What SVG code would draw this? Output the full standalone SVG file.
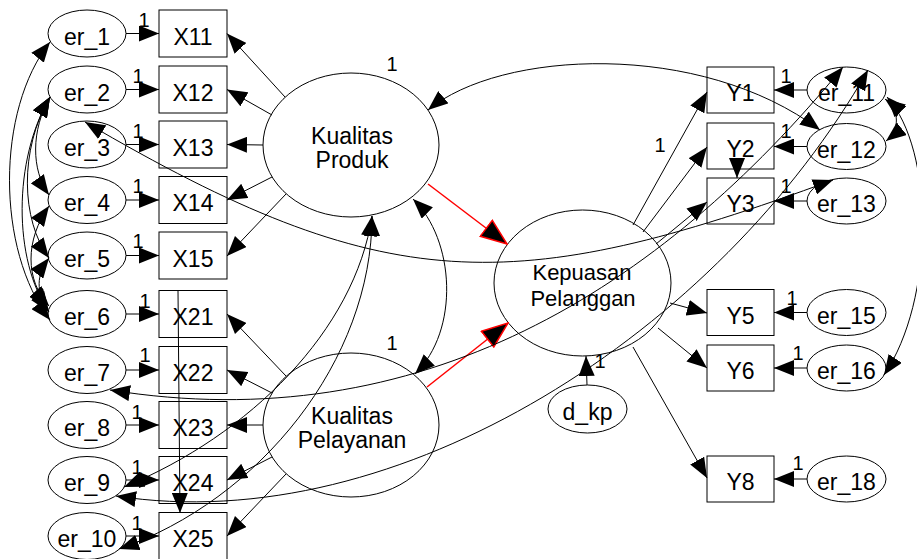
<svg xmlns="http://www.w3.org/2000/svg" width="917" height="559" viewBox="0 0 917 559">
<defs>
<style>
.n{fill:#fff;stroke:#000;stroke-width:1}
.t{font-family:"Liberation Sans",Arial,sans-serif;font-size:23px;text-anchor:middle;fill:#000}
.s{font-size:22px}
.o{font-family:"Liberation Sans",Arial,sans-serif;font-size:20px;text-anchor:middle;fill:#000}
.c{fill:none;stroke:#000;stroke-width:1;marker-end:url(#ah)}
.d{fill:none;stroke:#000;stroke-width:1;marker-start:url(#ah);marker-end:url(#ah)}
.r{fill:none;stroke:#f00;stroke-width:1.5;marker-end:url(#ahr)}
</style>
<marker id="ah" markerUnits="userSpaceOnUse" viewBox="0 0 20 16" markerWidth="20" markerHeight="16" refX="20" refY="8" orient="auto-start-reverse"><path d="M0,0 L20,8 L0,16 Z" fill="#000"/></marker>
<marker id="ahr" markerUnits="userSpaceOnUse" viewBox="0 0 28 22" markerWidth="28" markerHeight="22" refX="27" refY="11" orient="auto"><path d="M1,1 L27,11 L1,21 Z" fill="#000" stroke="#f00" stroke-width="1.5"/></marker>
</defs>
<rect width="917" height="559" fill="#fff"/>
<g id="nodes">
<g id="er_1"><ellipse class="n" cx="87" cy="33.5" rx="39" ry="23.5"/><text class="t" x="87" y="44.5">er_1</text></g>
<g id="er_2"><ellipse class="n" cx="87" cy="89.5" rx="39" ry="23.5"/><text class="t" x="87" y="100.5">er_2</text></g>
<g id="er_3"><ellipse class="n" cx="87" cy="144.5" rx="39" ry="23.5"/><text class="t" x="87" y="155.5">er_3</text></g>
<g id="er_4"><ellipse class="n" cx="87" cy="200" rx="39" ry="23.5"/><text class="t" x="87" y="211">er_4</text></g>
<g id="er_5"><ellipse class="n" cx="87" cy="255.5" rx="39" ry="23.5"/><text class="t" x="87" y="266.5">er_5</text></g>
<g id="er_6"><ellipse class="n" cx="87" cy="314" rx="39" ry="23.5"/><text class="t" x="87" y="325">er_6</text></g>
<g id="er_7"><ellipse class="n" cx="87" cy="370" rx="39" ry="23.5"/><text class="t" x="87" y="381">er_7</text></g>
<g id="er_8"><ellipse class="n" cx="87" cy="425" rx="39" ry="23.5"/><text class="t" x="87" y="436">er_8</text></g>
<g id="er_9"><ellipse class="n" cx="87" cy="480" rx="39" ry="23.5"/><text class="t" x="87" y="491">er_9</text></g>
<g id="er_10"><ellipse class="n" cx="87" cy="536" rx="39" ry="23.5"/><text class="t" x="87" y="547">er_10</text></g>
<g id="X11"><rect class="n" x="159" y="10" width="68" height="47"/><text class="t" x="193" y="44.5">X11</text></g>
<g id="X12"><rect class="n" x="159" y="66" width="68" height="47"/><text class="t" x="193" y="100.5">X12</text></g>
<g id="X13"><rect class="n" x="159" y="121" width="68" height="47"/><text class="t" x="193" y="155.5">X13</text></g>
<g id="X14"><rect class="n" x="159" y="176.5" width="68" height="47"/><text class="t" x="193" y="211">X14</text></g>
<g id="X15"><rect class="n" x="159" y="232" width="68" height="47"/><text class="t" x="193" y="266.5">X15</text></g>
<g id="X21"><rect class="n" x="159" y="290.5" width="68" height="47"/><text class="t" x="193" y="325">X21</text></g>
<g id="X22"><rect class="n" x="159" y="346.5" width="68" height="47"/><text class="t" x="193" y="381">X22</text></g>
<g id="X23"><rect class="n" x="159" y="401.5" width="68" height="47"/><text class="t" x="193" y="436">X23</text></g>
<g id="X24"><rect class="n" x="159" y="456.5" width="68" height="47"/><text class="t" x="193" y="491">X24</text></g>
<g id="X25"><rect class="n" x="159" y="512.5" width="68" height="47"/><text class="t" x="193" y="547">X25</text></g>
<g id="kualitas_produk"><ellipse class="n" cx="351" cy="145" rx="88" ry="72"/><text class="t" x="352" y="144">Kualitas</text><text class="t" x="352" y="168">Produk</text></g>
<g id="kualitas_pelayanan"><ellipse class="n" cx="351" cy="425" rx="88" ry="72"/><text class="t" x="352" y="424">Kualitas</text><text class="t" x="352" y="448">Pelayanan</text></g>
<g id="kepuasan_pelanggan"><ellipse class="n" cx="582.5" cy="283" rx="88.5" ry="73"/><text class="t s" x="582" y="280">Kepuasan</text><text class="t s" x="583" y="306">Pelanggan</text></g>
<g id="d_kp"><ellipse class="n" cx="587.5" cy="409" rx="39.5" ry="24"/><text class="t" x="587.5" y="420">d_kp</text></g>
<g id="Y1"><rect class="n" x="707" y="67" width="67" height="46"/><text class="t" x="740.5" y="101">Y1</text></g>
<g id="Y2"><rect class="n" x="707" y="123" width="67" height="46"/><text class="t" x="740.5" y="157">Y2</text></g>
<g id="Y3"><rect class="n" x="707" y="178" width="67" height="46"/><text class="t" x="740.5" y="212">Y3</text></g>
<g id="Y5"><rect class="n" x="707" y="289.5" width="67" height="46"/><text class="t" x="740.5" y="323.5">Y5</text></g>
<g id="Y6"><rect class="n" x="707" y="345" width="67" height="46"/><text class="t" x="740.5" y="379">Y6</text></g>
<g id="Y8"><rect class="n" x="707" y="456" width="67" height="46"/><text class="t" x="740.5" y="490">Y8</text></g>
<g id="er_11"><ellipse class="n" cx="846.5" cy="90" rx="39.5" ry="23"/><text class="t" x="846.5" y="101">er_11</text></g>
<g id="er_12"><ellipse class="n" cx="846.5" cy="146.5" rx="39.5" ry="23"/><text class="t" x="846.5" y="157.5">er_12</text></g>
<g id="er_13"><ellipse class="n" cx="846.5" cy="201" rx="39.5" ry="23"/><text class="t" x="846.5" y="212">er_13</text></g>
<g id="er_15"><ellipse class="n" cx="846.5" cy="312.5" rx="39.5" ry="23"/><text class="t" x="846.5" y="323.5">er_15</text></g>
<g id="er_16"><ellipse class="n" cx="846.5" cy="368" rx="39.5" ry="23"/><text class="t" x="846.5" y="379">er_16</text></g>
<g id="er_18"><ellipse class="n" cx="846.5" cy="479" rx="39.5" ry="23"/><text class="t" x="846.5" y="490">er_18</text></g>
</g>
<g id="connectors">
<line class="c" x1="126" y1="33.5" x2="159" y2="33.5"/>
<line class="c" x1="126" y1="89.5" x2="159" y2="89.5"/>
<line class="c" x1="126" y1="144.5" x2="159" y2="144.5"/>
<line class="c" x1="126" y1="200" x2="159" y2="200"/>
<line class="c" x1="126" y1="255.5" x2="159" y2="255.5"/>
<line class="c" x1="126" y1="314" x2="159" y2="314"/>
<line class="c" x1="126" y1="370" x2="159" y2="370"/>
<line class="c" x1="126" y1="425" x2="159" y2="425"/>
<line class="c" x1="126" y1="480" x2="159" y2="480"/>
<line class="c" x1="126" y1="536" x2="159" y2="536"/>
<line class="c" x1="285" y1="97" x2="227" y2="33.5"/>
<line class="c" x1="272" y1="115" x2="227" y2="89.5"/>
<line class="c" x1="263" y1="145" x2="227" y2="144.5"/>
<line class="c" x1="272" y1="177" x2="227" y2="200"/>
<line class="c" x1="286" y1="194" x2="227" y2="256"/>
<line class="c" x1="286" y1="376" x2="227" y2="314"/>
<line class="c" x1="272" y1="393" x2="227" y2="370"/>
<line class="c" x1="263" y1="425" x2="227" y2="425"/>
<line class="c" x1="272" y1="457" x2="227" y2="480"/>
<line class="c" x1="286" y1="474" x2="227" y2="536"/>
<line class="c" x1="178" y1="291" x2="180" y2="513"/>
<line class="r" x1="428" y1="184" x2="507" y2="244"/>
<line class="r" x1="427" y1="387" x2="508" y2="323"/>
<line class="c" x1="587" y1="385" x2="586" y2="356"/>
<line class="c" x1="633" y1="225" x2="707" y2="92"/>
<line class="c" x1="643" y1="232" x2="707" y2="147"/>
<line class="c" x1="656" y1="244" x2="707" y2="202"/>
<line class="c" x1="670" y1="303" x2="707" y2="313"/>
<line class="c" x1="658" y1="328" x2="707" y2="368"/>
<line class="c" x1="633" y1="347" x2="707" y2="478"/>
<line class="c" x1="807" y1="90" x2="774" y2="90"/>
<line class="c" x1="807" y1="146.5" x2="774" y2="146.5"/>
<line class="c" x1="807" y1="201" x2="774" y2="201"/>
<line class="c" x1="807" y1="312.5" x2="774" y2="312.5"/>
<line class="c" x1="807" y1="368" x2="774" y2="368"/>
<line class="c" x1="807" y1="479" x2="774" y2="479"/>
<line class="c" x1="737" y1="158" x2="737" y2="178"/>
<path class="d" d="M50,42 C-4,110 -4,250 50,320"/>
<path class="d" d="M50,97 C13,160 13,260 49,312"/>
<path class="d" d="M50,97 C19,150 21,220 49,258"/>
<path class="d" d="M50,97 C31,130 31,170 49,195"/>
<path class="d" d="M49,206 C25,240 25,280 49,306"/>
<path class="d" d="M49,258 C36,275 36,292 48,309"/>
<path class="d" d="M413,199 C455,240 460,330 415,374"/>
<path class="d" d="M372,216 C355,330 250,435 124,487"/>
<path class="d" d="M372,216 C372,360 260,500 119,549"/>
<path class="d" d="M85,122 C385,298 513,298 833,180"/>
<path class="d" d="M110,390 C420,440 660,290 843,67"/>
<path class="d" d="M116,496 C400,540 720,330 868,70"/>
<path class="d" d="M428,110 C500,50 700,40 820,130"/>
<path class="d" d="M885,99 C900,110 900,130 886,141"/>
<path class="d" d="M887,97 C935,150 935,300 884,375"/>
<text class="o" x="144" y="27">1</text>
<text class="o" x="138" y="83">1</text>
<text class="o" x="138" y="138">1</text>
<text class="o" x="138" y="193">1</text>
<text class="o" x="138" y="248">1</text>
<text class="o" x="145" y="308">1</text>
<text class="o" x="145" y="362">1</text>
<text class="o" x="137" y="419">1</text>
<text class="o" x="137" y="474">1</text>
<text class="o" x="137" y="530">1</text>
<text class="o" x="392" y="71">1</text>
<text class="o" x="392" y="350">1</text>
<text class="o" x="660" y="152">1</text>
<text class="o" x="600" y="368">1</text>
<text class="o" x="786" y="83">1</text>
<text class="o" x="786" y="138">1</text>
<text class="o" x="786" y="193">1</text>
<text class="o" x="792" y="305">1</text>
<text class="o" x="798" y="360">1</text>
<text class="o" x="798" y="470">1</text>
</g>
</svg>
